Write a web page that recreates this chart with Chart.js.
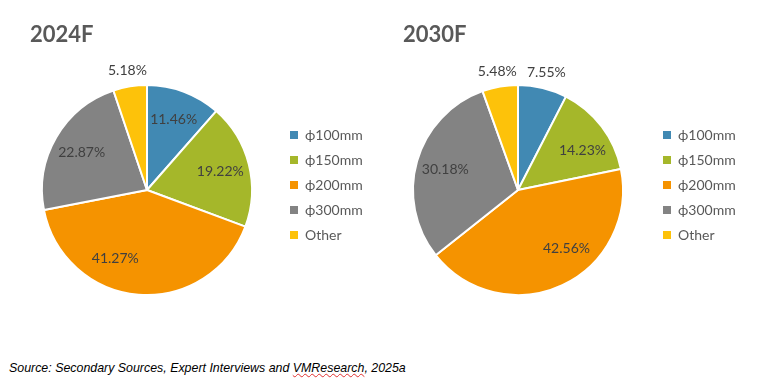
<!DOCTYPE html>
<html>
<head>
<meta charset="utf-8">
<script src="https://cdn.jsdelivr.net/npm/chart.js@4.4.1/dist/chart.umd.min.js"></script>
<style>
  body { margin: 0; background: #fff; width: 765px; height: 387px; position: relative; overflow: hidden; }
  canvas { position: absolute; top: 0; }
  #pie2024 { left: 0; }
  #pie2030 { left: 380px; }
  #source {
    position: absolute; left: 9px; top: 361px;
    font: italic 12.4px "Liberation Sans", Arial, sans-serif; color: #000; white-space: nowrap;
  }
  #source .sq { text-decoration: underline wavy #e03030; text-decoration-thickness: 1px; }
</style>
</head>
<body>
<canvas id="pie2024" width="380" height="340"></canvas>
<canvas id="pie2030" width="385" height="340"></canvas>
<div id="source">Source: Secondary Sources, Expert Interviews and <span class="sq">VMResearch</span>, 2025a</div>

<script>
// ─── Data ──────────────────────────────────────────────────────
const sizes       = ['ϕ100mm', 'ϕ150mm', 'ϕ200mm', 'ϕ300mm', 'Other'];
const share2024   = [11.46, 19.22, 41.27, 22.87, 5.18];
const share2030   = [7.55, 14.23, 42.56, 30.18, 5.48];
const sliceColors = ['#4189b3', '#a5b72a', '#f59300', '#838383', '#fdc20a'];

const LABEL_FONT  = '14px Lato, "Open Sans", sans-serif';
const LEGEND_FONT = '14px Lato, "Open Sans", sans-serif';
const TITLE_FONT  = 'bold 22px Lato, "Open Sans", sans-serif';

// ─── Titles, slice labels and legend, drawn after the pie ──────
const decorPlugin = {
    id: 'decor',
    afterDraw(chart, _args, opts) {
        const ctx   = chart.ctx;
        const meta  = chart.getDatasetMeta(0);
        const vals  = chart.data.datasets[0].data;
        const nudge = chart.config.options.labelNudge || [];
        ctx.save();

        // title
        ctx.font = TITLE_FONT;
        ctx.fillStyle = '#595959';
        ctx.textAlign = 'left';
        ctx.textBaseline = 'alphabetic';
        ctx.fillText(opts.title, opts.titleX, 42);

        // percentage labels (small slices go outside, like Excel's best fit)
        ctx.font = LABEL_FONT;
        ctx.fillStyle = '#404040';
        ctx.textAlign = 'center';
        ctx.textBaseline = 'middle';
        meta.data.forEach((arc, i) => {
            const mid = (arc.startAngle + arc.endAngle) / 2 + (nudge[i] || 0);
            const f   = vals[i] < 10 ? 1.15 : 0.72;
            const x   = arc.x + Math.cos(mid) * arc.outerRadius * f;
            const y   = arc.y + Math.sin(mid) * arc.outerRadius * f;
            ctx.fillText(vals[i].toFixed(2) + '%', x, y);
        });

        // legend
        ctx.font = LEGEND_FONT;
        ctx.textAlign = 'left';
        chart.data.labels.forEach((lab, i) => {
            const y = 135 + i * 25;
            ctx.fillStyle = sliceColors[i];
            ctx.fillRect(opts.legendX, y - 4, 8, 8);
            ctx.fillStyle = '#595959';
            ctx.fillText(lab, opts.legendX + 15, y);
        });
        ctx.restore();
    }
};

function makePie(canvasId, values, title, titleX, legendX, padding, labelNudge) {
    return new Chart(document.getElementById(canvasId), {
        type: 'pie',
        data: {
            labels: sizes,
            datasets: [{
                data: values,
                backgroundColor: sliceColors,
                borderColor: '#ffffff',
                borderWidth: 2,
                radius: 105,
                hoverOffset: 0
            }]
        },
        options: {
            responsive: false,
            animation: false,
            events: [],
            layout: { padding },
            labelNudge,
            plugins: {
                legend:  { display: false },
                tooltip: { enabled: false },
                decor:   { title, titleX, legendX }
            }
        },
        plugins: [decorPlugin]
    });
}

makePie('pie2024', share2024, '2024F', 30, 290, { left: 41, right: 127, top: 84, bottom: 44 }, [0, 0, 0.35, 0, 0]);
makePie('pie2030', share2030, '2030F', 23, 283, { left: 32, right: 141, top: 84, bottom: 44 }, [0, 0.1, -0.26, 0, 0]);
</script>
</body>
</html>
